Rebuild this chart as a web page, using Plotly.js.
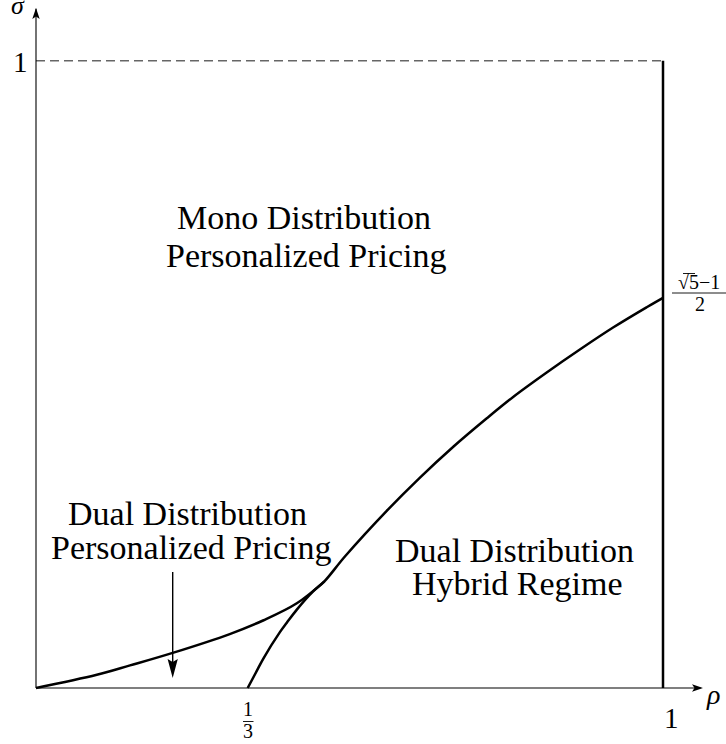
<!DOCTYPE html>
<html>
<head>
<meta charset="utf-8">
<script src="https://cdn.plot.ly/plotly-3.0.1.min.js"></script>
<style>html,body{margin:0;padding:0;background:#fff;}#chart{width:726px;height:744px;}</style>
</head>
<body>
<div id="chart"></div>
<script>
// ---- data ----
const rhoLower   = [0, 0.097, 0.150, 0.218, 0.309, 0.363, 0.416, 0.460];
const sigmaLower = [0, 0.021, 0.036, 0.056, 0.086, 0.108, 0.135, 0.170];

const rhoUpper   = [0.3376, 0.3546, 0.3626, 0.389, 0.400, 0.416, 0.442, 0.460, 0.493, 0.559, 0.612, 0.666, 0.719, 0.761, 0.8145, 0.868, 0.921, 0.974, 1.0];
const sigmaUpper = [0, 0.032, 0.047, 0.089, 0.104, 0.125, 0.154, 0.170, 0.210, 0.282, 0.335, 0.385, 0.430, 0.464, 0.503, 0.540, 0.575, 0.607, 0.622];

const rhoMax = 1;
const sigmaMax = 1;

// ---- helpers (pixel -> paper) ----
const W = 726, H = 744;
const px = p => p / W;
const py = p => 1 - p / H;
const FONT = 'Liberation Serif, Times New Roman, serif';

function txt(text, x, y, size, extra) {
  return Object.assign({
    text: text, xref: 'paper', yref: 'paper', x: px(x), y: py(y),
    xanchor: 'center', yanchor: 'middle', showarrow: false,
    font: {family: FONT, size: size, color: '#000'}
  }, extra || {});
}
function path(pts) {
  return 'M' + pts.map(p => px(p[0]) + ',' + py(p[1])).join(' L') + ' Z';
}

const traces = [
  {x: rhoLower, y: sigmaLower, mode: 'lines', line: {color: '#000', width: 2.5, shape: 'spline', smoothing: 1}, hoverinfo: 'skip'},
  {x: rhoUpper, y: sigmaUpper, mode: 'lines', line: {color: '#000', width: 2.5, shape: 'spline', smoothing: 1}, hoverinfo: 'skip'},
  {x: [rhoMax, rhoMax], y: [0, sigmaMax], mode: 'lines', line: {color: '#000', width: 2.5}, hoverinfo: 'skip'},
  {x: [0, rhoMax], y: [sigmaMax, sigmaMax], mode: 'lines', line: {color: '#666', width: 1.5, dash: '9px,5px'}, hoverinfo: 'skip'}
];

const shapes = [
  // axes
  {type: 'line', xref: 'x', yref: 'y', x0: 0, y0: 0, x1: 1.06, y1: 0, line: {color: '#000', width: 1.1}},
  {type: 'line', xref: 'x', yref: 'y', x0: 0, y0: 0, x1: 0, y1: 1.083, line: {color: '#000', width: 1.1}},
  // axis arrowheads
  {type: 'path', xref: 'paper', yref: 'paper', path: path([[36, 8], [32.3, 19], [36, 16.5], [39.7, 19]]), fillcolor: '#000', line: {width: 0}},
  {type: 'path', xref: 'paper', yref: 'paper', path: path([[703, 688], [692, 684.3], [694.5, 688], [692, 691.7]]), fillcolor: '#000', line: {width: 0}},
  // pointer arrow
  {type: 'line', xref: 'paper', yref: 'paper', x0: px(172.7), y0: py(572), x1: px(172.7), y1: py(664), line: {color: '#000', width: 1.4}},
  {type: 'path', xref: 'paper', yref: 'paper', path: path([[172.7, 678], [167.6, 659], [172.7, 662], [177.8, 659]]), fillcolor: '#000', line: {width: 0}},
  // fraction bars
  {type: 'line', xref: 'paper', yref: 'paper', x0: px(243), y0: py(721.5), x1: px(253.5), y1: py(721.5), line: {color: '#000', width: 0.9}},
  {type: 'line', xref: 'paper', yref: 'paper', x0: px(672), y0: py(293), x1: px(726), y1: py(293), line: {color: '#000', width: 0.9}},
  // radical vinculum
  {type: 'line', xref: 'paper', yref: 'paper', x0: px(683), y0: py(273.5), x1: px(695), y1: py(273.5), line: {color: '#000', width: 0.9}}
];

const annotations = [
  txt('<i>σ</i>', 17.5, 6, 26),
  txt('<i>ρ</i>', 713, 694, 28),
  txt('1', 20, 62, 29),
  txt('1', 671, 718, 29),
  // 1/3
  txt('1', 248, 709, 20),
  txt('3', 248, 731, 20),
  // (sqrt5 - 1)/2
  txt('√5−1', 699, 282, 20),
  txt('2', 700, 304, 20),
  // region labels
  txt('Mono Distribution', 304, 218, 34),
  txt('Personalized Pricing', 306, 255, 34),
  txt('Dual Distribution', 187, 513, 34),
  txt('Personalized Pricing', 191, 547, 34),
  txt('Dual Distribution', 514, 550, 34),
  txt('Hybrid Regime', 517, 583, 34)
];

const layout = {
  width: W, height: H,
  margin: {l: 0, r: 0, t: 0, b: 0, pad: 0},
  paper_bgcolor: '#fff', plot_bgcolor: '#fff',
  showlegend: false,
  xaxis: {range: [-36/627, 690/627], visible: false, fixedrange: true},
  yaxis: {range: [-56/627.3, 688/627.3], visible: false, fixedrange: true},
  shapes: shapes,
  annotations: annotations
};

Plotly.newPlot('chart', traces, layout, {staticPlot: true, displayModeBar: false});
</script>
</body>
</html>
